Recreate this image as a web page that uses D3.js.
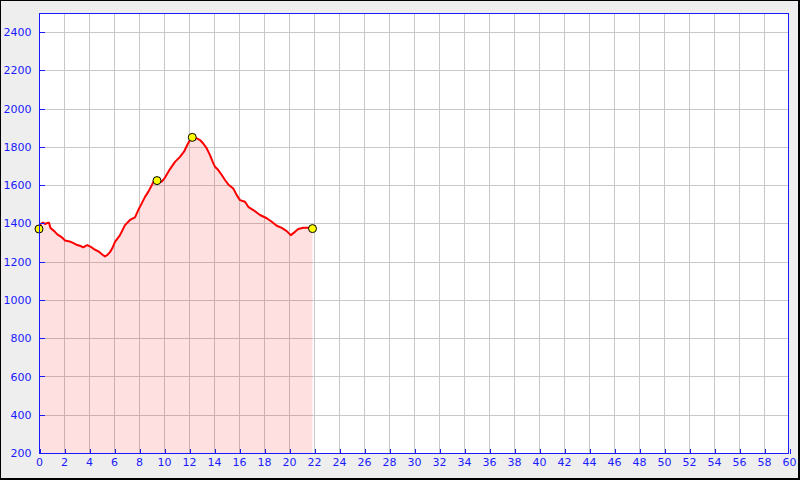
<!DOCTYPE html>
<html><head><meta charset="utf-8">
<script src="https://cdn.jsdelivr.net/npm/d3@7"></script>
<style>html,body{margin:0;padding:0;background:#eeeeee;}svg{display:block;}</style>
</head><body>
<svg id="c" width="800" height="480"></svg>
<script>
const distanceKm = [0.00,0.12,0.32,0.48,0.64,0.80,0.92,1.12,1.28,1.46,1.68,1.92,2.08,2.54,2.80,3.06,3.34,3.54,3.74,3.86,4.14,4.40,4.80,5.06,5.28,5.46,5.68,5.86,6.08,6.48,6.88,7.28,7.68,7.94,8.22,8.48,8.74,9.02,9.20,9.44,9.82,10.08,10.48,10.88,11.28,11.60,11.86,12.08,12.26,12.62,12.88,13.14,13.42,13.68,13.90,14.08,14.34,14.62,14.88,15.14,15.54,15.82,16.08,16.48,16.74,17.14,17.68,18.22,18.62,19.02,19.42,19.82,20.14,20.48,20.74,21.14,21.54,21.88];
const elevationM = [1371,1397,1405,1397,1402,1404,1376,1365,1356,1343,1334,1322,1311,1304,1296,1287,1282,1275,1283,1287,1278,1266,1252,1238,1227,1235,1250,1270,1304,1339,1391,1418,1432,1470,1505,1539,1565,1600,1624,1624,1618,1640,1684,1722,1748,1775,1810,1836,1850,1845,1836,1818,1792,1757,1722,1696,1679,1653,1627,1604,1583,1548,1522,1513,1487,1470,1444,1427,1409,1388,1377,1360,1339,1356,1371,1377,1377,1373];
const markerKm = [0.00, 9.44, 12.26, 21.88];
const markerEle = [1371, 1624, 1850, 1373];
const xTicks = d3.range(0, 61, 2);
const yTicks = [200,400,600,800,1000,1200,1400,1600,1800,2000,2200,2400];

const svg = d3.select("#c");
const W = 800, H = 480;
const L = 39, R = 789, T = 13, B = 453;
const x = d3.scaleLinear().domain([0, 60]).range([L, R]);
const y = d3.scaleLinear().domain([200, 2500]).range([B, T]);
const blue = "#1a1aff";

svg.append("rect").attr("x",0).attr("y",0).attr("width",W).attr("height",H).attr("fill","#000");
svg.append("rect").attr("x",1).attr("y",1).attr("width",W-3).attr("height",H-3).attr("fill","#eeeeee");
svg.append("rect").attr("x",L).attr("y",T).attr("width",R-L).attr("height",B-T).attr("fill","#fff");

// grid
const g = svg.append("g").attr("stroke","#c8c8c8").attr("stroke-width",1).attr("shape-rendering","crispEdges");
g.selectAll("line.vx").data(xTicks.filter(d=>d>0&&d<60)).join("line")
  .attr("x1",d=>Math.round(x(d))+0.5).attr("x2",d=>Math.round(x(d))+0.5).attr("y1",T).attr("y2",B);
g.selectAll("line.hy").data(yTicks.filter(d=>d>200)).join("line")
  .attr("y1",d=>Math.round(y(d))+0.5).attr("y2",d=>Math.round(y(d))+0.5).attr("x1",L).attr("x2",R);

const pts = distanceKm.map((d,i)=>[d, elevationM[i]]);
svg.append("path").datum(pts)
  .attr("d", d3.area().x(d=>x(d[0])).y0(y(200)).y1(d=>y(d[1])))
  .attr("fill","rgba(255,0,0,0.12)");
svg.append("path").datum(pts)
  .attr("d", d3.line().x(d=>x(d[0])).y(d=>y(d[1])))
  .attr("fill","none").attr("stroke","#ff0000").attr("stroke-width",2)
  .attr("stroke-linejoin","round");

svg.selectAll("circle.m").data(markerKm.map((d,i)=>[d, markerEle[i]])).join("circle")
  .attr("cx",d=>x(d[0])).attr("cy",d=>y(d[1])).attr("r",4)
  .attr("fill","#ffff00").attr("stroke","#000").attr("stroke-width",1);

// axes
const xa = svg.append("g").attr("transform",`translate(0,${B+0.5})`)
  .call(d3.axisBottom(x).tickValues(xTicks).tickSizeInner(-5).tickSizeOuter(0).tickPadding(5).tickFormat(d3.format("d")));
const ya = svg.append("g").attr("transform",`translate(${L+0.5},0)`)
  .call(d3.axisLeft(y).tickValues(yTicks).tickSizeInner(-5).tickSizeOuter(0).tickPadding(8).tickFormat(d3.format("d")));
[xa, ya].forEach(a=>{
  a.selectAll("path").remove();
  a.selectAll("line").attr("stroke",blue).attr("shape-rendering","crispEdges");
  a.selectAll("text").attr("fill",blue).attr("font-family","DejaVu Sans").attr("font-size",11);
});
xa.selectAll(".tick line").attr("transform","translate(0.5,0)");
svg.append("rect").attr("x",L+0.5).attr("y",T+0.5).attr("width",R-L-1).attr("height",B-T)
  .attr("fill","none").attr("stroke",blue).attr("stroke-width",1).attr("shape-rendering","crispEdges");
</script>
</body></html>
